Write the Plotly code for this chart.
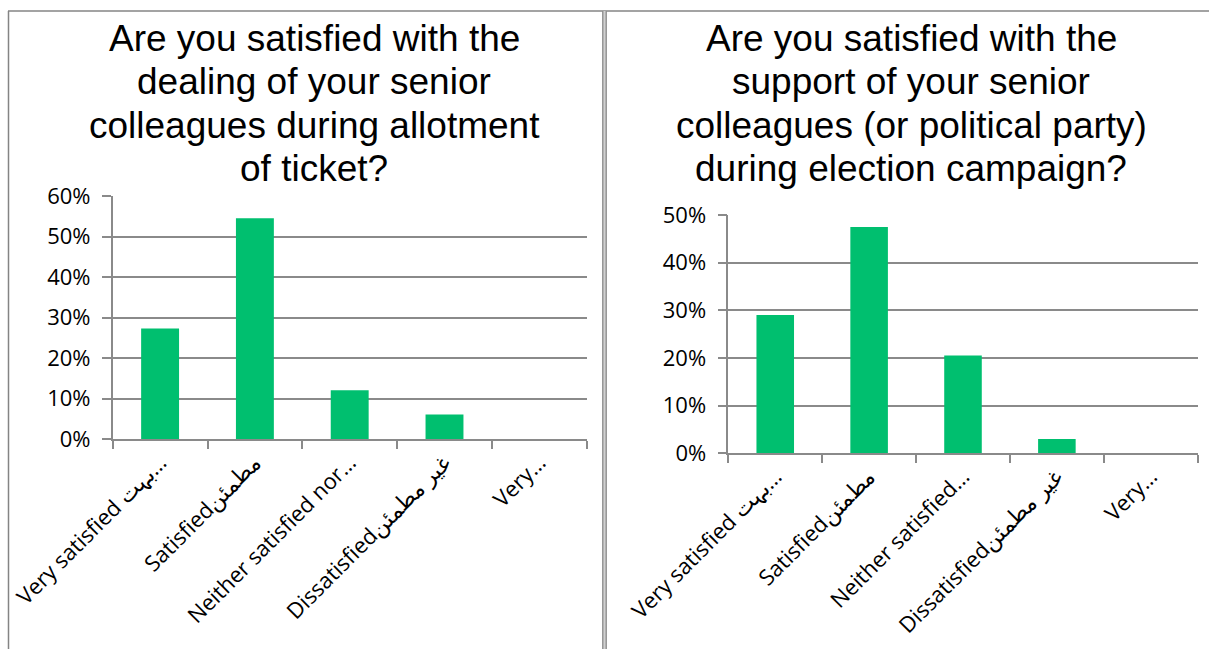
import plotly.graph_objects as go

W, H = 1209, 649

# Survey answers (share of respondents)
cats_left = ["Very satisfied بہت…", "Satisfiedمطمئن", "Neither satisfied nor…",
             "Dissatisfiedغیر مطمئن", "Very…"]
cats_right = ["Very satisfied بہت…", "Satisfiedمطمئن", "Neither satisfied…",
              "Dissatisfiedغیر مطمئن", "Very…"]
share_ticket = [0.273, 0.545, 0.121, 0.061, 0.0]
share_campaign = [0.29, 0.475, 0.205, 0.03, 0.0]

title_left = ["Are you satisfied with the", "dealing of your senior",
              "colleagues during allotment", "of ticket?"]
title_right = ["Are you satisfied with the", "support of your senior",
               "colleagues (or political party)", "during election campaign?"]

GREEN = "#00BF6F"
GRID = "#8a8a8a"
TICK_FONT = dict(family="Open Sans", size=22, color="#000000")


def px_x(x):
    return x / W


def px_y(y):
    return 1 - y / H


fig = go.Figure()
fig.add_trace(go.Bar(x=cats_left, y=share_ticket, marker=dict(color=GREEN, line=dict(width=0)),
                     xaxis="x", yaxis="y", showlegend=False))
fig.add_trace(go.Bar(x=cats_right, y=share_campaign, marker=dict(color=GREEN, line=dict(width=0)),
                     xaxis="x2", yaxis="y2", showlegend=False))

xcommon = dict(type="category", showline=True, linecolor=GRID, linewidth=1.5, automargin=False,
               ticks="outside", tickson="boundaries", ticklen=8, tickcolor=GRID, tickwidth=1.5,
               tickangle=-45, tickfont=TICK_FONT, showgrid=False, fixedrange=True)
ycommon = dict(showline=True, linecolor=GRID, linewidth=1.5, ticks="outside", ticklen=9,
               tickcolor=GRID, tickwidth=1.5, showgrid=True, gridcolor=GRID, gridwidth=1.5,
               tickformat=".0%", dtick=0.1, tickfont=TICK_FONT, zeroline=False, automargin=False,
               ticklabelstandoff=7, fixedrange=True)

fig.update_layout(
    width=W, height=H, margin=dict(l=0, r=0, t=0, b=0, autoexpand=False),
    paper_bgcolor="white", plot_bgcolor="white", bargap=0.6,
    xaxis=dict(xcommon, domain=[px_x(112.7), px_x(586.7)], anchor="y"),
    yaxis=dict(ycommon, domain=[px_y(439.3), px_y(196)], range=[0, 0.6], anchor="x"),
    xaxis2=dict(xcommon, domain=[px_x(728.3), px_x(1197.7)], anchor="y2"),
    yaxis2=dict(ycommon, domain=[px_y(453.3), px_y(215)], range=[0, 0.5], anchor="x2"),
)

# Chart titles, one annotation per line so the line spacing stays tight
TITLE_FONT = dict(family="Liberation Sans", size=37, color="#000000")
LINE_Y = [38, 82, 125.5, 168.5]
for lines, cx in ((title_left, 314), (title_right, 911)):
    for txt, ly in zip(lines, LINE_Y):
        fig.add_annotation(text=txt, x=px_x(cx), y=px_y(ly), xref="paper", yref="paper",
                           xanchor="center", yanchor="middle", showarrow=False,
                           font=TITLE_FONT, align="center")

# Frame: top rule, left rule and the double divider between the two panels
BORDER = "#848484"
shapes = [
    dict(type="line", x0=px_x(8), x1=1, y0=px_y(11), y1=px_y(11), line=dict(color=BORDER, width=1.5)),
    dict(type="line", x0=px_x(8.5), x1=px_x(8.5), y0=px_y(11), y1=0, line=dict(color=BORDER, width=1.5)),
    dict(type="rect", x0=px_x(602.5), x1=px_x(606.5), y0=0, y1=px_y(11),
         fillcolor="#d0d0d0", line=dict(width=0)),
    dict(type="line", x0=px_x(602.8), x1=px_x(602.8), y0=0, y1=px_y(11), line=dict(color=BORDER, width=1.2)),
    dict(type="line", x0=px_x(606.2), x1=px_x(606.2), y0=0, y1=px_y(11), line=dict(color=BORDER, width=1.2)),
]
for s in shapes:
    s.update(xref="paper", yref="paper")
fig.update_layout(shapes=shapes)

fig.write_html("out.html")
